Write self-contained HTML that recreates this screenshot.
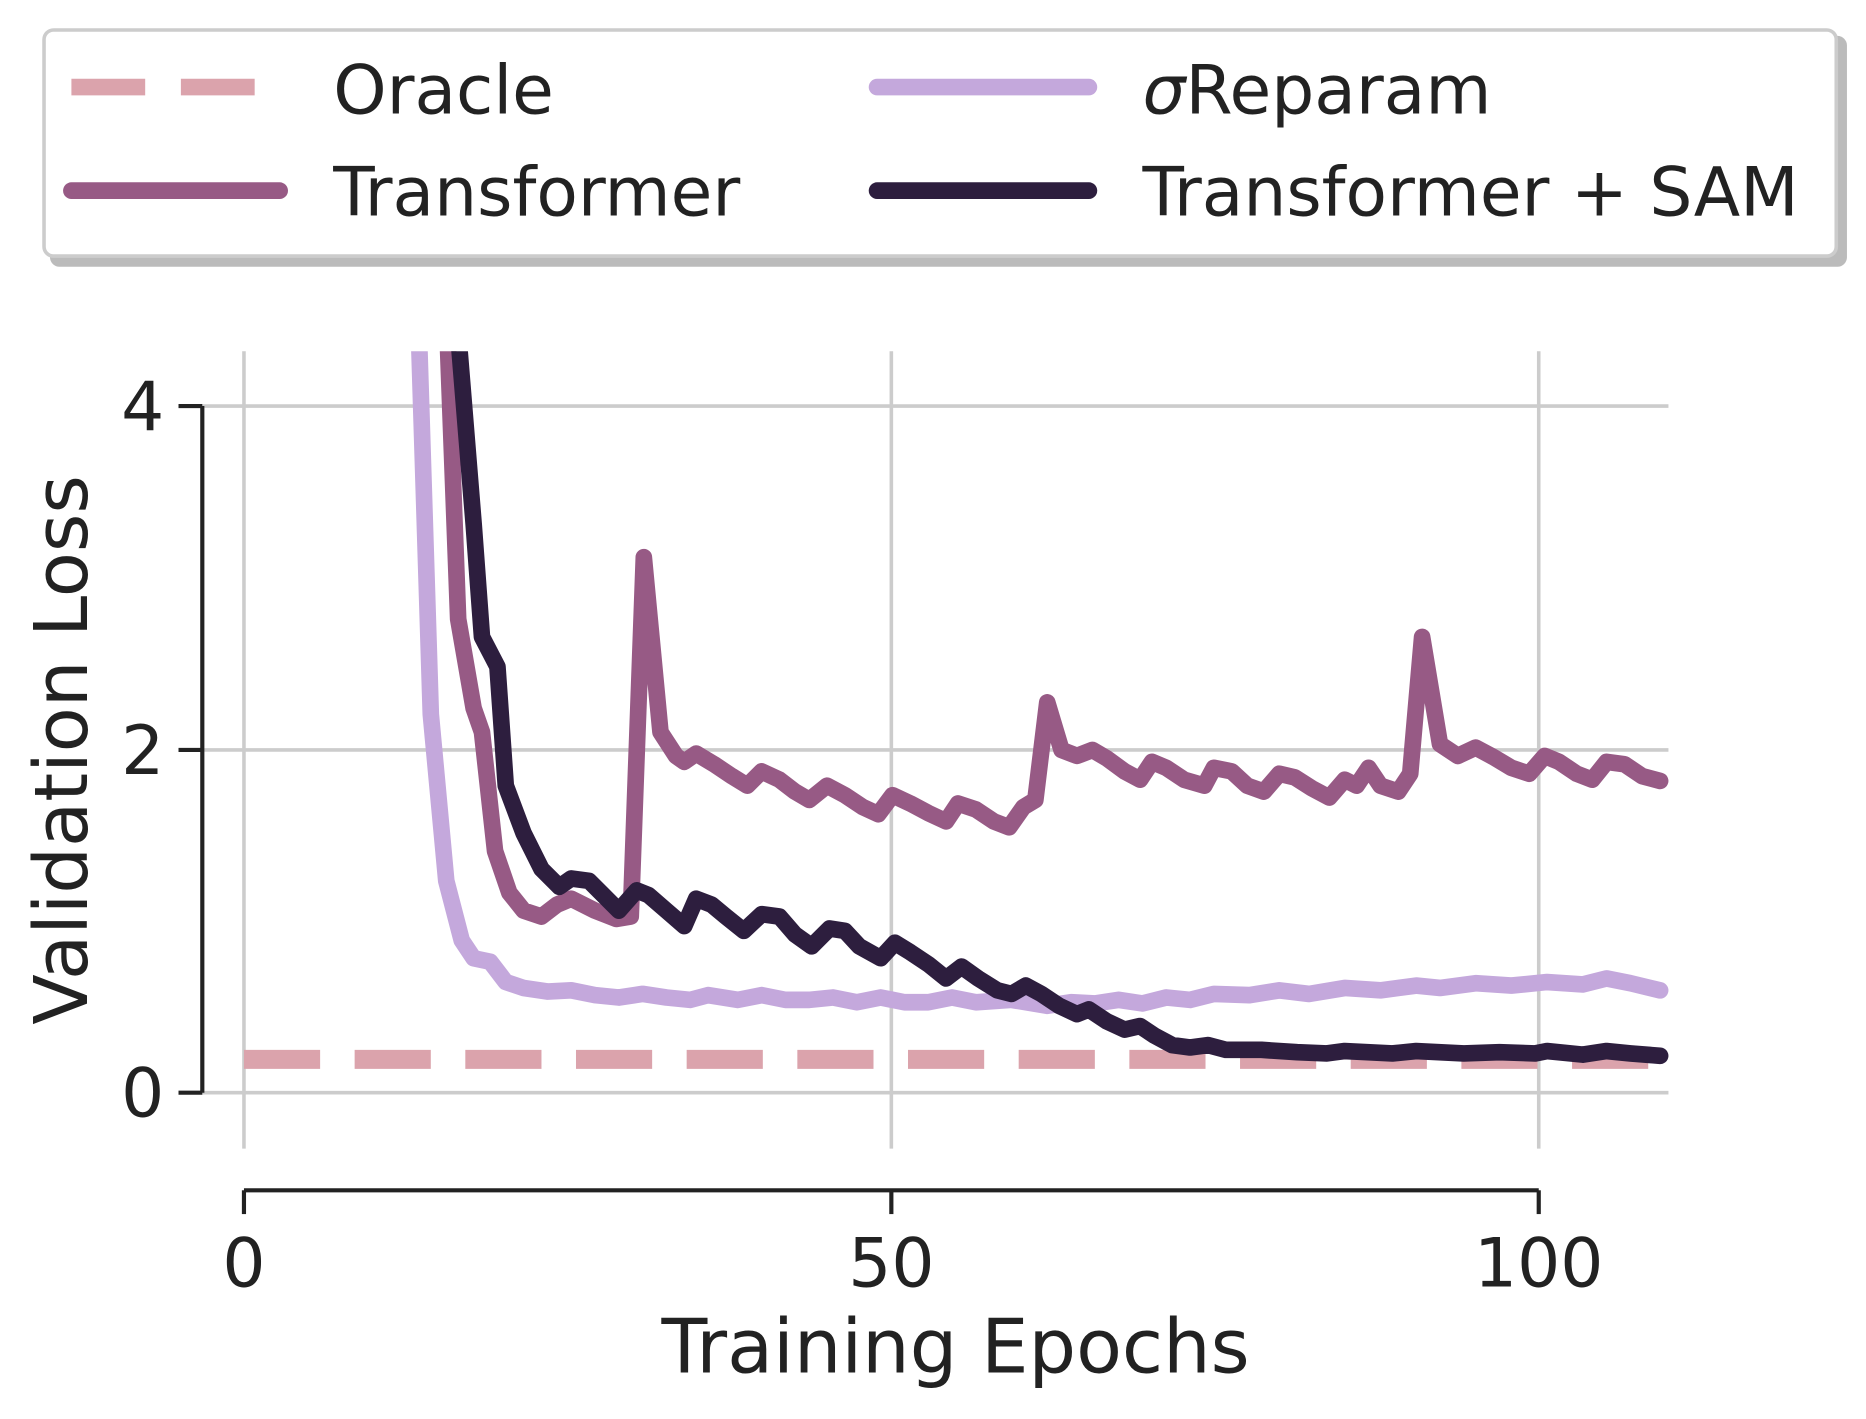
<!DOCTYPE html>
<html><head><style>html,body{margin:0;padding:0;background:#fff}svg{display:block}</style></head><body>
<svg width="1866" height="1419" viewBox="0 0 1568 1192" xmlns="http://www.w3.org/2000/svg" font-family="'DejaVu Sans','Liberation Sans',sans-serif" fill="#222">
<rect x="42" y="30" width="1510" height="194" rx="8" fill="#bbb"/>
<rect x="37" y="25" width="1506" height="190" rx="8" fill="#fff" stroke="#ccc" stroke-width="3"/>
<line x1="60" y1="73" x2="220" y2="73" stroke="#dba3ac" stroke-width="14" stroke-dasharray="62,30"/>
<text x="280" y="95" font-size="57">Oracle</text>
<line x1="60" y1="160" x2="235" y2="160" stroke="#975a85" stroke-width="14" stroke-linecap="round"/>
<text x="280" y="181" font-size="57">Transformer</text>
<line x1="737" y1="73" x2="915" y2="73" stroke="#c4a8dc" stroke-width="14" stroke-linecap="round"/>
<text x="960" y="95" font-size="57"><tspan font-style="italic">σ</tspan>Reparam</text>
<line x1="737" y1="160" x2="915" y2="160" stroke="#2d1e3e" stroke-width="14" stroke-linecap="round"/>
<text x="960" y="181" font-size="57">Transformer + SAM</text>
<g stroke="#cccccc" stroke-width="3">
<line x1="205" y1="295" x2="205" y2="965"/><line x1="749" y1="295" x2="749" y2="965"/><line x1="1293" y1="295" x2="1293" y2="965"/>
<line x1="170" y1="341" x2="1402" y2="341"/><line x1="170" y1="630" x2="1402" y2="630"/><line x1="170" y1="918" x2="1402" y2="918"/>
</g>
<g stroke="#222" stroke-width="3.5">
<line x1="170" y1="341" x2="170" y2="918"/><line x1="150" y1="341" x2="170" y2="341"/><line x1="150" y1="630" x2="170" y2="630"/><line x1="150" y1="918" x2="170" y2="918"/>
<line x1="205" y1="1000" x2="1293" y2="1000"/><line x1="205" y1="1000" x2="205" y2="1020"/><line x1="749" y1="1000" x2="749" y2="1020"/><line x1="1293" y1="1000" x2="1293" y2="1020"/>
</g>
<g font-size="57" text-anchor="end"><text x="138" y="361">4</text><text x="138" y="650">2</text><text x="138" y="938">0</text></g>
<g font-size="57" text-anchor="middle"><text x="205" y="1081">0</text><text x="749" y="1081">50</text><text x="1293" y="1081">100</text></g>
<text x="803" y="1153" font-size="63" text-anchor="middle">Training Epochs</text>
<text transform="translate(73,630) rotate(-90)" font-size="62" text-anchor="middle">Validation Loss</text>
<svg x="170" y="295" width="1240" height="700" viewBox="170 295 1240 700" overflow="hidden">
<line x1="205" y1="890" x2="1395" y2="890" stroke="#dba3ac" stroke-width="16" stroke-dasharray="64,29"/>
<polyline fill="none" stroke="#c4a8dc" stroke-width="14" stroke-linejoin="round" stroke-linecap="round" points="352,280 362,600 375,740 388,790 398,805 412,808 425,825 440,830 460,833 480,832 500,836 520,838 540,835 560,838 580,840 595,836 620,840 640,836 660,840 680,840 700,838 720,842 740,838 760,842 780,842 800,838 820,842 850,840 880,845 900,842 920,843 940,840 960,843 980,838 1000,840 1020,835 1050,836 1075,832 1100,835 1130,830 1160,832 1190,828 1210,830 1240,826 1270,828 1300,825 1330,827 1350,822 1370,826 1395,832"/>
<polyline fill="none" stroke="#975a85" stroke-width="14" stroke-linejoin="round" stroke-linecap="round" points="376,280 385,520 398,595 405,615 416,715 428,750 440,765 455,770 468,760 480,755 500,765 518,772 530,770 541,468 555,615 568,635 575,640 585,633 600,642 615,652 628,660 640,648 655,655 668,665 680,672 695,660 710,668 725,678 738,684 750,668 765,675 780,683 795,690 805,675 820,680 835,690 848,695 860,678 870,672 880,590 892,630 905,635 918,630 930,637 945,648 958,655 968,640 980,645 995,655 1012,660 1020,645 1035,648 1048,660 1062,665 1075,650 1088,653 1102,662 1117,670 1130,655 1140,660 1150,645 1160,660 1175,665 1185,650 1195,535 1210,625 1225,635 1240,628 1255,636 1270,645 1285,650 1298,635 1310,640 1325,650 1338,655 1350,640 1365,642 1380,652 1395,656"/>
<polyline fill="none" stroke="#2d1e3e" stroke-width="14" stroke-linejoin="round" stroke-linecap="round" points="385,280 398,440 405,535 418,560 425,660 440,700 455,730 470,745 480,738 495,740 510,755 520,765 535,748 545,752 560,765 575,778 585,755 598,760 610,770 625,782 640,768 655,770 668,785 682,795 697,780 710,782 722,795 740,805 752,792 765,800 780,810 795,822 808,812 822,822 838,832 850,835 862,828 875,835 890,845 905,852 915,848 930,858 945,865 958,862 970,870 985,878 1000,880 1015,878 1030,882 1060,882 1090,884 1115,885 1130,883 1170,885 1190,883 1230,885 1260,884 1290,885 1300,883 1330,886 1350,883 1370,885 1395,887"/>
</svg>
</svg>
</body></html>
